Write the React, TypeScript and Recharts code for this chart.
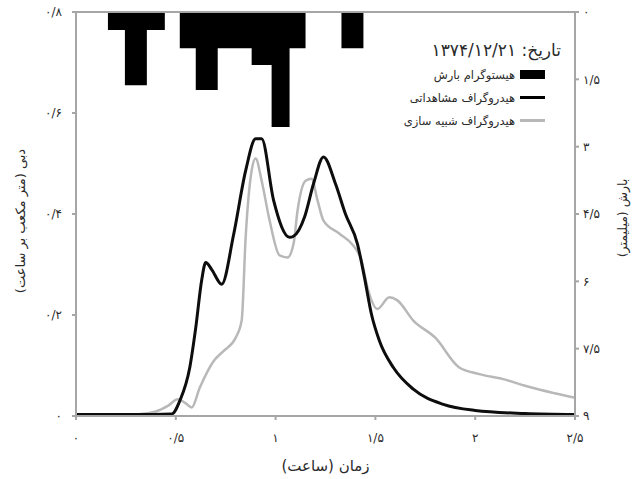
import React from 'react';
import { ComposedChart, Line, Area, XAxis, YAxis, ReferenceLine, Label } from 'recharts';

const timeTicks = [0, 0.5, 1, 1.5, 2, 2.5];
const flowTicks = [0, 0.2, 0.4, 0.6, 0.8];
const rainTicks = [0, 1.5, 3, 4.5, 6, 7.5, 9];

const rainTime = [0.16, 0.245, 0.355, 0.445, 0.52, 0.6, 0.71, 0.88, 0.98, 1.07, 1.15, 1.33, 1.44];
const rainDepth = [0.4, 1.63, 0.4, 0, 0.81, 1.74, 0.81, 1.18, 2.56, 0.81, 0, 0.81, 0];

const obsTime = [0, 0.3, 0.48, 0.52, 0.57, 0.6, 0.63, 0.65, 0.68, 0.73, 0.79, 0.85, 0.9, 0.93, 0.99, 1.07, 1.09, 1.145, 1.19, 1.24, 1.3, 1.35, 1.41, 1.445, 1.48, 1.52, 1.59, 1.69, 1.84, 2.0, 2.25, 2.5];
const obsFlow = [0.003, 0.003, 0.004, 0.03, 0.096, 0.175, 0.27, 0.304, 0.29, 0.261, 0.36, 0.486, 0.549, 0.549, 0.427, 0.354, 0.356, 0.394, 0.46, 0.513, 0.46, 0.4, 0.341, 0.275, 0.202, 0.149, 0.096, 0.053, 0.023, 0.011, 0.005, 0.003];

const simTime = [0, 0.3, 0.4, 0.46, 0.51, 0.55, 0.58, 0.62, 0.69, 0.74, 0.8, 0.83, 0.85, 0.88, 0.9, 0.93, 0.97, 1.02, 1.06, 1.09, 1.11, 1.15, 1.18, 1.21, 1.24, 1.32, 1.39, 1.43, 1.46, 1.51, 1.57, 1.61, 1.69, 1.8, 1.92, 2.02, 2.14, 2.25, 2.5];
const simFlow = [0.002, 0.003, 0.009, 0.02, 0.033, 0.025, 0.017, 0.056, 0.109, 0.129, 0.155, 0.189, 0.354, 0.486, 0.51, 0.466, 0.387, 0.318, 0.314, 0.341, 0.407, 0.466, 0.47, 0.427, 0.387, 0.361, 0.337, 0.308, 0.255, 0.212, 0.235, 0.229, 0.189, 0.155, 0.096, 0.083, 0.073, 0.06, 0.036];

const dateText = 'تاریخ: ۱۳۷۴/۱۲/۲۱';
const legendNames = ['هیستوگرام بارش', 'هیدروگراف مشاهداتی', 'هیدروگراف شبیه سازی'];
const xTitle = 'زمان (ساعت)';
const leftTitle = 'دبی (متر مکعب بر ساعت)';
const rightTitle = 'بارش (میلیمتر)';

const rainData = rainTime.map((t, i) => ({ t, r: rainDepth[i] }));
const obsData = obsTime.map((t, i) => ({ t, q: obsFlow[i] }));
const simData = simTime.map((t, i) => ({ t, q: simFlow[i] }));

const FONT = '"DejaVu Sans", sans-serif';
const AXIS = '#a6a6a6';
const TXT = '#2a2a2a';
const GRAY = '#b8b8b8';

const fa = (v: number) =>
  String(v).replace(/\./g, '/').replace(/[0-9]/g, (d) => '۰۱۲۳۴۵۶۷۸۹'[Number(d)]);

const tickStyle = { fontFamily: FONT, fontSize: 12, fill: TXT };

export default function App() {
  return (
    <div style={{ position: 'absolute', left: 0, top: 0, width: 641, height: 479, background: '#fff' }}>
      <ComposedChart width={641} height={479} data={obsData} margin={{ top: 12, right: 0, bottom: 0, left: 0 }}>
        <XAxis
          dataKey="t"
          type="number"
          domain={[0, 2.5]}
          ticks={timeTicks}
          tickFormatter={fa}
          height={63}
          stroke={AXIS}
          strokeWidth={2}
          tickSize={4}
          tickMargin={13}
          tick={tickStyle}
          allowDataOverflow
        >
          <Label
            content={({ viewBox }: any) => (
              <text
                x={viewBox.x + viewBox.width / 2}
                y={viewBox.y + 55}
                textAnchor="middle"
                direction="rtl"
                style={{ fontFamily: FONT, fontSize: 15, fill: TXT }}
              >
                {xTitle}
              </text>
            )}
          />
        </XAxis>
        <YAxis
          yAxisId="left"
          orientation="left"
          domain={[0, 0.8]}
          ticks={flowTicks}
          tickFormatter={fa}
          width={76}
          stroke={AXIS}
          strokeWidth={2}
          tickSize={4}
          tickMargin={10}
          tick={tickStyle}
          allowDataOverflow
        >
          <Label
            content={({ viewBox }: any) => {
              const cx = 20;
              const cy = viewBox.y + viewBox.height / 2 + 7;
              return (
                <text
                  x={cx}
                  y={cy}
                  textAnchor="middle"
                  direction="rtl"
                  dominantBaseline="central"
                  transform={`rotate(-90 ${cx} ${cy})`}
                  style={{ fontFamily: FONT, fontSize: 13, fill: TXT }}
                >
                  {leftTitle}
                </text>
              );
            }}
          />
        </YAxis>
        <YAxis
          yAxisId="right"
          orientation="right"
          domain={[0, 9]}
          reversed
          ticks={rainTicks}
          tickFormatter={fa}
          width={66}
          stroke={AXIS}
          strokeWidth={2}
          tickSize={4}
          tickMargin={4}
          tick={tickStyle}
          allowDataOverflow
        >
          <Label
            content={({ viewBox }: any) => {
              const cx = 622;
              const cy = viewBox.y + viewBox.height / 2 + 4;
              return (
                <text
                  x={cx}
                  y={cy}
                  textAnchor="middle"
                  direction="rtl"
                  dominantBaseline="central"
                  transform={`rotate(-90 ${cx} ${cy})`}
                  style={{ fontFamily: FONT, fontSize: 12.5, fill: TXT }}
                >
                  {rightTitle}
                </text>
              );
            }}
          />
        </YAxis>
        <ReferenceLine yAxisId="left" y={0.8} stroke={AXIS} strokeWidth={2} />
        <Area
          data={rainData}
          yAxisId="right"
          dataKey="r"
          type="stepAfter"
          baseValue={0}
          stroke="none"
          fill="#000"
          fillOpacity={1}
          isAnimationActive={false}
          dot={false}
          activeDot={false}
        />
        <Line
          data={simData}
          yAxisId="left"
          dataKey="q"
          type="monotone"
          stroke={GRAY}
          strokeWidth={2.5}
          dot={false}
          activeDot={false}
          isAnimationActive={false}
        />
        <Line
          data={obsData}
          yAxisId="left"
          dataKey="q"
          type="monotone"
          stroke="#0d0d0d"
          strokeWidth={3}
          dot={false}
          activeDot={false}
          isAnimationActive={false}
        />
      </ComposedChart>
      <div
        style={{
          position: 'absolute',
          left: 375,
          top: 37,
          width: 190,
          direction: 'rtl',
          fontFamily: FONT,
          color: TXT,
        }}
      >
        <div style={{ fontSize: 17, lineHeight: '26px', height: 26, whiteSpace: 'nowrap', paddingRight: 4 }}>{dateText}</div>
        {legendNames.map((name, i) => (
          <div
            key={name}
            style={{ display: 'flex', alignItems: 'center', height: 23, fontSize: 11.5, whiteSpace: 'nowrap', paddingRight: 20 }}
          >
            <span
              style={{
                display: 'inline-block',
                width: 25,
                height: i === 0 ? 9 : 3,
                background: i === 2 ? GRAY : '#000',
                marginLeft: 5,
              }}
            />
            <span>{name}</span>
          </div>
        ))}
      </div>
    </div>
  );
}
